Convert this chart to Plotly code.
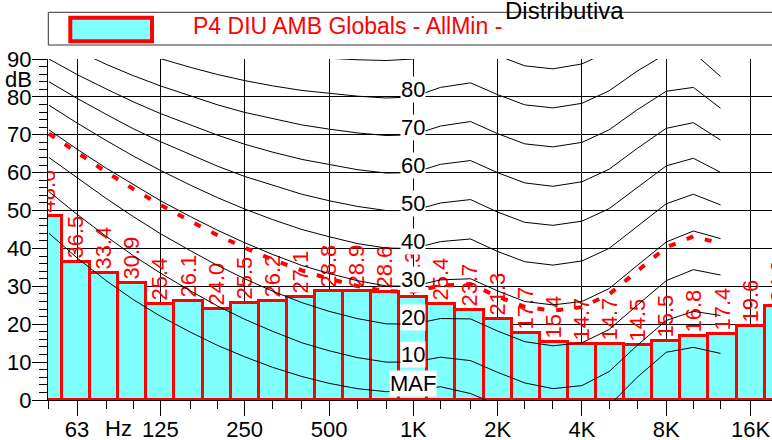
import numpy as np
import plotly.graph_objects as go

# ---------------- data ----------------
bands = [50, 63, 80, 100, 125, 160, 200, 250, 315, 400, 500, 630, 800, 1000,
         1250, 1600, 2000, 2500, 3150, 4000, 5000, 6300, 8000, 10000, 12500, 16000, 20000]
levels = [48.6, 36.5, 33.4, 30.9, 25.4, 26.1, 24.0, 25.5, 26.2, 27.1, 28.8, 28.9, 28.6, 27.3,
          25.4, 23.7, 21.3, 17.7, 15.4, 14.7, 14.7, 14.5, 15.5, 16.8, 17.4, 19.6, 24.9]

iso_freqs = [50, 63, 80, 100, 125, 160, 200, 250, 315, 400, 500, 630, 800, 1000,
             1250, 1600, 2000, 2500, 3150, 4000, 5000, 6300, 8000, 10000, 12500]
contour_maf = [44.0, 37.5, 31.5, 26.5, 22.1, 17.9, 14.4, 11.4, 8.6, 6.2, 4.4, 3.0, 2.2, 2.4,
               3.5, 1.7, -1.3, -4.2, -6.0, -5.4, -1.5, 6.0, 12.6, 13.9, 12.3]
contour_10 = [55.0, 49.0, 43.2, 38.1, 33.5, 28.8, 24.8, 21.3, 18.1, 15.1, 13.0, 11.2, 10.0, 10.0,
              11.3, 10.4, 7.3, 4.5, 3.0, 3.8, 7.5, 14.4, 21.0, 23.4, 22.3]
contour_20 = [64.0, 58.6, 53.2, 48.4, 43.9, 39.4, 35.5, 32.0, 28.7, 25.7, 23.4, 21.5, 20.1, 20.0,
              21.5, 21.4, 18.2, 15.4, 14.3, 15.1, 18.6, 25.0, 31.5, 34.4, 33.0]
contour_30 = [71.3, 66.2, 61.2, 56.8, 52.6, 48.4, 44.8, 41.5, 38.4, 35.5, 33.4, 31.5, 30.1, 30.0,
              31.7, 32.0, 28.8, 26.0, 25.1, 26.0, 29.4, 35.5, 41.7, 44.6, 42.6]
contour_40 = [77.8, 73.1, 68.5, 64.4, 60.6, 56.7, 53.4, 50.4, 47.6, 45.0, 43.1, 41.3, 40.1, 40.0,
              41.8, 42.5, 39.2, 36.5, 35.6, 36.7, 40.0, 45.8, 51.8, 54.3, 51.5]
contour_50 = [84.0, 79.6, 75.4, 71.6, 68.2, 64.7, 61.7, 59.0, 56.6, 54.3, 52.6, 51.1, 50.0, 50.0,
              52.0, 52.9, 49.6, 46.9, 46.1, 47.2, 50.5, 56.1, 61.8, 63.8, 60.1]
contour_60 = [90.0, 85.9, 82.1, 78.7, 75.6, 72.5, 69.9, 67.5, 65.4, 63.5, 62.1, 60.8, 59.9, 60.0,
              62.2, 63.2, 60.0, 57.3, 56.4, 57.6, 60.9, 66.4, 71.7, 73.2, 68.6]
contour_70 = [95.9, 92.2, 88.6, 85.6, 82.9, 80.2, 77.9, 75.9, 74.2, 72.6, 71.5, 70.5, 69.8, 70.0,
              72.3, 73.5, 70.3, 67.6, 66.8, 68.0, 71.3, 76.6, 81.5, 82.5, 77.0]
contour_80 = [101.7, 98.4, 95.2, 92.5, 90.1, 87.8, 85.9, 84.3, 82.9, 81.7, 80.9, 80.2, 79.7, 80.0,
              82.5, 83.7, 80.6, 77.9, 77.1, 78.3, 81.6, 86.8, 91.4, 91.7, 85.4]
contour_90 = [107.6, 104.5, 101.7, 99.3, 97.3, 95.4, 93.9, 92.7, 91.6, 90.8, 90.2, 89.8, 89.6, 90.0,
              92.7, 94.0, 90.9, 88.2, 87.4, 88.7, 92.0, 97.0, 101.3, 101.0, 93.8]
contour_names = ["MAF", "10", "20", "30", "40", "50", "60", "70", "80", "90"]

loudness_contour = [70.3, 65.2, 60.2, 55.7, 51.5, 47.2, 43.5, 40.2, 37.0, 34.2, 32.0, 30.1, 28.7, 28.6,
                    30.2, 30.6, 27.3, 24.6, 23.6, 24.5, 27.9, 34.0, 40.3, 43.2, 41.3]

octave_ticks = [63, 125, 250, 500, 1000, 2000, 4000, 8000, 16000]
octave_labels = ["63", "125", "250", "500", "1K", "2K", "4K", "8K", "16K"]
third_ticks = [50, 80, 100, 160, 200, 315, 400, 630, 800, 1250, 1600, 2500, 3150,
               5000, 6300, 10000, 12500, 20000]

legend_text = "P4 DIU AMB Globals - AllMin -"
title_text = "Distributiva"

# ---------------- figure ----------------
FONT = "Liberation Sans, Arial, Helvetica, sans-serif"
BAR_FILL = "#80FFFF"

idx = np.arange(len(bands)) - bands.index(1000)
centers = 1000.0 * 2.0 ** (idx / 3.0)
lo = centers * 2.0 ** (-1 / 6)
hi = centers * 2.0 ** (1 / 6)

fig = go.Figure()
fig.add_trace(go.Bar(
    x=centers, y=levels, width=hi - lo, offset=lo - centers,
    marker=dict(color=BAR_FILL, line=dict(color="red", width=3)),
    texttemplate="%{y:.1f}", textposition="outside", textangle=-90,
    textfont=dict(color="red", size=22, family=FONT),
    constraintext="none", cliponaxis=True, showlegend=False, hoverinfo="skip",
))

contours = [contour_maf, contour_10, contour_20, contour_30, contour_40,
            contour_50, contour_60, contour_70, contour_80, contour_90]
for c in contours:
    fig.add_trace(go.Scatter(x=iso_freqs, y=c, mode="lines",
                             line=dict(color="black", width=1),
                             showlegend=False, hoverinfo="skip"))

fig.add_trace(go.Scatter(x=iso_freqs, y=loudness_contour, mode="lines",
                         line=dict(color="red", width=4, dash="7px,12px"),
                         showlegend=False, hoverinfo="skip"))

i1k = iso_freqs.index(1000)
annotations = []
for name, c in zip(contour_names, contours):
    if c[i1k] + 1.9 > 89:
        continue
    annotations.append(dict(x=3, y=c[i1k] + 1.9, xref="x", yref="y", text=name,
                            showarrow=False, bgcolor="white", borderpad=0,
                            font=dict(size=22, color="black", family=FONT),
                            xanchor="center", yanchor="middle"))

PW, PH = 724.0, 341.0
def px_x(p):
    return (p - 48.0) / PW
def px_y(p):
    return (400.0 - p) / PH

annotations += [
    dict(x=np.log10(88.4), y=px_y(428.5), xref="x", yref="paper", text="Hz", showarrow=False,
         font=dict(size=22, color="black", family=FONT), xanchor="center", yanchor="middle"),
    dict(x=px_x(33.5), y=84.6, xref="paper", yref="y", text="dB", showarrow=False,
         font=dict(size=22, color="black", family=FONT), xanchor="right", yanchor="middle"),
    dict(x=px_x(191), y=px_y(25.5), xref="paper", yref="paper", text=legend_text, showarrow=False,
         font=dict(size=23, color="red", family=FONT), xanchor="left", yanchor="middle"),
    dict(x=px_x(564), y=px_y(11), xref="paper", yref="paper", text=title_text, showarrow=False,
         font=dict(size=24, color="black", family=FONT), xanchor="center", yanchor="middle"),
]

shapes = [
    dict(type="rect", xref="paper", yref="paper", x0=px_x(48.3), x1=1.02,
         y0=px_y(45), y1=px_y(12.3), line=dict(color="#333333", width=1), fillcolor="rgba(0,0,0,0)"),
    dict(type="rect", xref="paper", yref="paper", x0=px_x(70.3), x1=px_x(152),
         y0=px_y(41.3), y1=px_y(17.7), line=dict(color="red", width=4), fillcolor=BAR_FILL),
]

fig.update_layout(
    width=772, height=440,
    margin=dict(l=48, r=0, t=59, b=40, pad=0, autoexpand=False),
    paper_bgcolor="white", plot_bgcolor="white",
    bargap=0,
    font=dict(family=FONT, size=22, color="black"),
    annotations=annotations, shapes=shapes,
    xaxis=dict(type="log", range=[np.log10(49.6), np.log10(19086)], automargin=False,
               tickmode="array", tickvals=octave_ticks, ticktext=octave_labels,
               ticks="outside", ticklen=15, tickcolor="black", tickwidth=1,
               ticklabelstandoff=-5,
               showgrid=True, gridcolor="black", gridwidth=1,
               showline=True, linecolor="black", linewidth=1,
               zeroline=False, tickfont=dict(size=22, family=FONT),
               minor=dict(tickmode="array", tickvals=third_ticks, ticks="outside", ticklen=8,
                          tickcolor="black", showgrid=False)),
    yaxis=dict(range=[0, 90], tick0=0, dtick=10, automargin=False,
               ticks="outside", ticklen=15, tickcolor="black", tickwidth=1,
               ticklabelstandoff=-4,
               showgrid=True, gridcolor="black", gridwidth=1,
               showline=True, linecolor="black", linewidth=1,
               zeroline=False, tickfont=dict(size=22, family=FONT),
               minor=dict(dtick=2, ticks="outside", ticklen=8, tickcolor="black", showgrid=False)),
)

fig.write_html("out.html", config={"displayModeBar": False},
               post_script="document.body.style.margin='0px';")
